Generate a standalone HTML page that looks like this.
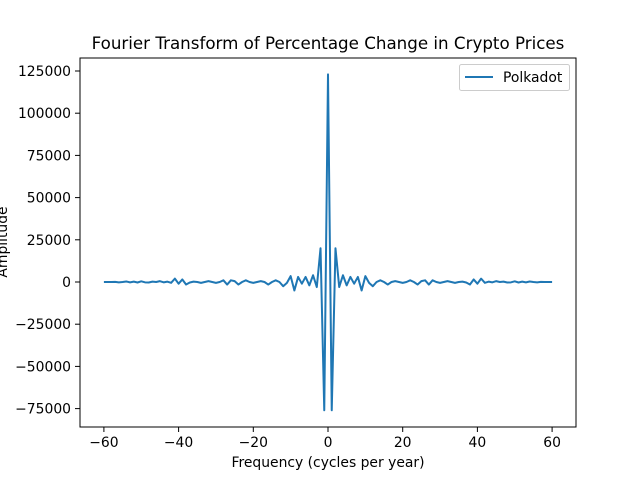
<!DOCTYPE html>
<html><head><meta charset="utf-8"><style>
body{margin:0;background:#fff}
svg text{font-family:"DejaVu Sans","Liberation Sans",sans-serif;fill:#000}
</style></head><body>
<svg width="640" height="480" xmlns="http://www.w3.org/2000/svg">
<g id="plot"></g>
</svg>
<script>
const halfAmps=[123000,-76000,20000,-3000,4000,-2000,3000,-1000,3000,-5000,3500,-500,-2500,0,1000,0,-1500,0,500,0,-500,0,1000,0,-1500,500,1000,-1500,1000,0,-500,0,500,0,-500,0,200,-300,-1500,1500,-1000,2000,-500,200,-200,500,0,200,-300,-200,400,-300,200,-200,300,0,-200,100,0,0,0];
const xTicks=[-60,-40,-20,0,20,40,60];
const yTicks=[-75000,-50000,-25000,0,25000,50000,75000,100000,125000];
const freqs=[];const amps=[];
for(let k=-60;k<=60;k++){freqs.push(k);amps.push(halfAmps[Math.abs(k)]);}
const L=80,R=576,T=58,B=427;
const xs=v=>328+(v*3.735);
const ys=v=>282-(v*211/125000);
const NS='http://www.w3.org/2000/svg';
const g=document.getElementById('plot');
function mk(t,a,p){const e=document.createElementNS(NS,t);for(const k in a)e.setAttribute(k,a[k]);(p||g).appendChild(e);return e;}
const pts=freqs.map((f,i)=>xs(f).toFixed(2)+','+ys(amps[i]).toFixed(2)).join(' ');
const line=mk('polyline',{points:pts,fill:'none',stroke:'#1f77b4','stroke-width':2,'stroke-linejoin':'round'});


const frame=mk('rect',{x:L,y:T,width:R-L,height:B-T,fill:'none',stroke:'#000','stroke-width':1});


xTicks.forEach(v=>{const x=xs(v);mk('line',{x1:x,x2:x,y1:B,y2:B+5,stroke:'#000','stroke-width':1});
const t=mk('text',{x:x,y:B+20,'text-anchor':'middle','font-size':13.9});t.textContent=v<0?'\u2212'+(-v):v;

});
yTicks.forEach(v=>{const y=ys(v);mk('line',{x1:L,x2:L-5,y1:y,y2:y,stroke:'#000','stroke-width':1});
const t=mk('text',{x:L-9,y:y+5,'text-anchor':'end','font-size':13.9});t.textContent=v<0?'\u2212'+(-v):v;

});
const title=mk('text',{x:328,y:49,'text-anchor':'middle','font-size':16.7});title.textContent='Fourier Transform of Percentage Change in Crypto Prices';


const xl=mk('text',{x:328,y:467,'text-anchor':'middle','font-size':13.9});xl.textContent='Frequency (cycles per year)';


const yl=mk('text',{x:0,y:0,'text-anchor':'middle','font-size':13.9,transform:'translate(7,242) rotate(-90)'});yl.textContent='Amplitude';


const lg=mk('g',{});


mk('rect',{x:459.5,y:64.5,width:110,height:26,rx:2,fill:'#fff',stroke:'#ccc','stroke-width':1},lg);
mk('line',{x1:465,x2:493,y1:77,y2:77,stroke:'#1f77b4','stroke-width':2},lg);
const lt=mk('text',{x:503,y:82,'font-size':13.9},lg);lt.textContent='Polkadot';


</script>
</body></html>
